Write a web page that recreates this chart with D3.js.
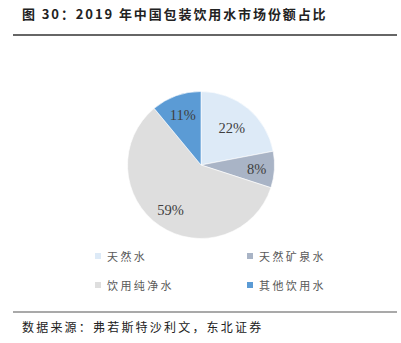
<!DOCTYPE html>
<html>
<head>
<meta charset="utf-8">
<script src="https://cdn.jsdelivr.net/npm/d3@7"></script>
<style>
  html, body { margin: 0; padding: 0; background: #fff; }
  svg { display: block; }
</style>
</head>
<body>
<svg id="chart" width="401" height="343"></svg>
<script>
// Market share of packaged drinking water in China, 2019
const categories = ["天然水", "天然矿泉水", "饮用纯净水", "其他饮用水"];
const shares = [22, 8, 59, 11];
const colors = ["#DDEAF7", "#A9B4C6", "#DEDEDE", "#5B9BD5"];

const svg = d3.select("#chart");
const cjk = "'Noto Sans CJK SC', 'Noto Sans', sans-serif";

// Title and rule beneath it
svg.append("text")
  .attr("x", 22).attr("y", 19)
  .attr("font-family", cjk)
  .attr("font-weight", "bold")
  .attr("font-size", 13)
  .attr("letter-spacing", 1.9)
  .attr("fill", "#222")
  .text("图 30：2019 年中国包装饮用水市场份额占比");

svg.append("line")
  .attr("x1", 13).attr("x2", 397).attr("y1", 35).attr("y2", 35)
  .attr("stroke", "#333").attr("stroke-width", 1.5);

// Pie
const cx = 201, cy = 165, r = 73.5;
const pie = d3.pie().sort(null).value(d => d)(shares);
const arc = d3.arc().innerRadius(0).outerRadius(r);
// label distance from the centre, as a fraction of the radius, per slice
const labelRadius = [0.66, 0.76, 0.74, 0.73];

const g = svg.append("g").attr("transform", `translate(${cx},${cy})`);
g.selectAll("path").data(pie).join("path")
  .attr("d", arc)
  .attr("fill", (d, i) => colors[i])
  .attr("stroke", "#fff")
  .attr("stroke-width", 0.6);

g.selectAll("text").data(pie).join("text")
  .attr("transform", (d, i) => {
    const lr = r * labelRadius[i];
    return `translate(${d3.arc().innerRadius(lr).outerRadius(lr).centroid(d)})`;
  })
  .attr("text-anchor", "middle")
  .attr("dominant-baseline", "central")
  .attr("font-family", "'Liberation Serif', 'Times New Roman', serif")
  .attr("font-size", 14.5)
  .attr("fill", "#404040")
  .text(d => d.data + "%");

// Legend: two columns, two rows
const legendX = [95, 247], legendY = [256, 285];
const lg = svg.append("g");
categories.forEach((name, k) => {
  const x = legendX[k % 2], y = legendY[Math.floor(k / 2)];
  lg.append("rect")
    .attr("x", x).attr("y", y - 3).attr("width", 6).attr("height", 6)
    .attr("fill", colors[k]);
  lg.append("text")
    .attr("x", x + 12).attr("y", y)
    .attr("dominant-baseline", "central")
    .attr("font-family", cjk)
    .attr("font-size", 11)
    .attr("letter-spacing", 2.4)
    .attr("fill", "#595959")
    .text(name);
});

// Source note and rule above it
svg.append("line")
  .attr("x1", 13).attr("x2", 397).attr("y1", 312).attr("y2", 312)
  .attr("stroke", "#555").attr("stroke-width", 1.2);

svg.append("text")
  .attr("x", 22).attr("y", 332)
  .attr("font-family", cjk)
  .attr("font-size", 12)
  .attr("letter-spacing", 2.2)
  .attr("fill", "#222")
  .text("数据来源：弗若斯特沙利文，东北证券");
</script>
</body>
</html>
